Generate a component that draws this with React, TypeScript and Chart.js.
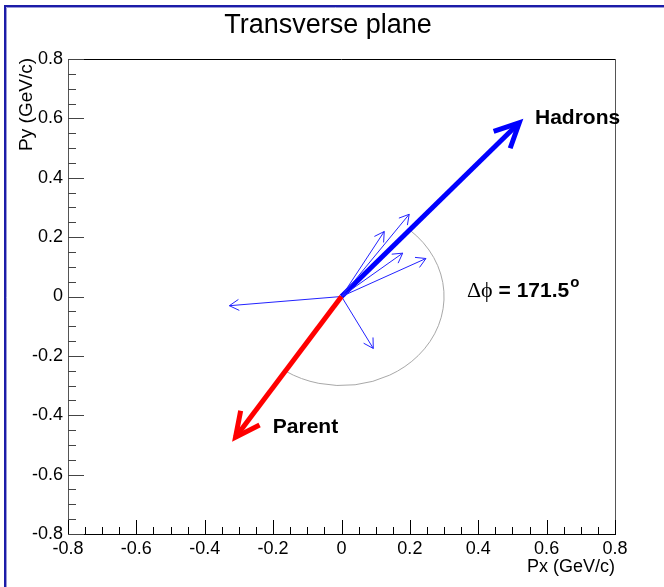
import React, { useEffect, useRef } from "react";
import { Chart, registerables } from "chart.js";

Chart.register(...registerables);

// Transverse momentum components (GeV/c) of the individual charged tracks
const trackPx = [-0.328, 0.093, 0.125, 0.198, 0.179, 0.247];
const trackPy = [-0.031, -0.175, 0.219, 0.277, 0.146, 0.128];

// Summed hadronic system and the parent
const hadronsPx = 0.52;
const hadronsPy = 0.585;
const parentPx = -0.31;
const parentPy = -0.474;

// Opening angle between the two systems (degrees) and radius of the indicator arc
const deltaPhiDeg = 171.5;
const arcRadius = 0.3;

// Axis range and tick spacing
const axisMin = -0.8;
const axisMax = 0.8;
const majorStep = 0.2;
const minorStep = 0.05;

const SANS = "'Liberation Sans', Arial, Helvetica, sans-serif";

function fmtTick(v: number): string {
  if (Math.abs(v) < 1e-9) return "0";
  return String(Number(v.toFixed(1)));
}

function drawHead(
  ctx: CanvasRenderingContext2D,
  x0: number, y0: number, x1: number, y1: number,
  len: number, halfAngleDeg: number, lw: number, color: string
) {
  const ang = Math.atan2(y0 - y1, x0 - x1);
  const a = (halfAngleDeg * Math.PI) / 180;
  ctx.save();
  ctx.strokeStyle = color;
  ctx.lineWidth = lw;
  ctx.lineJoin = "miter";
  ctx.lineCap = "butt";
  ctx.beginPath();
  ctx.moveTo(x1 + len * Math.cos(ang + a), y1 + len * Math.sin(ang + a));
  ctx.lineTo(x1, y1);
  ctx.lineTo(x1 + len * Math.cos(ang - a), y1 + len * Math.sin(ang - a));
  ctx.stroke();
  ctx.restore();
}

const decorations = {
  id: "transverseDecorations",
  beforeDraw(chart: any) {
    const { ctx, width, height } = chart;
    ctx.save();
    ctx.fillStyle = "#ffffff";
    ctx.fillRect(0, 0, width, height);
    // canvas frame
    ctx.strokeStyle = "#1c1ca8";
    ctx.lineWidth = 2;
    ctx.beginPath();
    ctx.moveTo(5, height + 2);
    ctx.lineTo(5, 6);
    ctx.lineTo(width + 2, 6);
    ctx.stroke();
    ctx.strokeStyle = "#9a9ad8";
    ctx.lineWidth = 1;
    ctx.beginPath();
    ctx.moveTo(6.5, height + 2);
    ctx.lineTo(6.5, 7.5);
    ctx.lineTo(width + 2, 7.5);
    ctx.stroke();
    ctx.restore();
  },
  beforeDatasetsDraw(chart: any) {
    const { ctx, chartArea } = chart;
    const xs = chart.scales.x;
    const ys = chart.scales.y;
    const { left, right, top, bottom } = chartArea;

    ctx.save();
    // frame
    ctx.lineWidth = 1;
    ctx.strokeStyle = "#000";
    ctx.beginPath();
    ctx.moveTo(left, Math.round(top) + 0.5);
    ctx.lineTo(right, Math.round(top) + 0.5);
    ctx.moveTo(left, Math.round(bottom) + 0.5);
    ctx.lineTo(right + 1, Math.round(bottom) + 0.5);
    ctx.stroke();
    ctx.strokeStyle = "#555";
    ctx.beginPath();
    ctx.moveTo(Math.round(left) + 0.5, top);
    ctx.lineTo(Math.round(left) + 0.5, bottom);
    ctx.moveTo(Math.round(right) + 0.5, top);
    ctx.lineTo(Math.round(right) + 0.5, bottom);
    ctx.stroke();

    // inward tick marks on bottom and left axes
    const nMinor = Math.round((axisMax - axisMin) / minorStep);
    const perMajor = Math.round(majorStep / minorStep);
    ctx.strokeStyle = "#000";
    ctx.beginPath();
    for (let i = 0; i <= nMinor; i++) {
      const v = axisMin + i * minorStep;
      const px = Math.round(xs.getPixelForValue(v)) + 0.5;
      const len = i % perMajor === 0 ? 14 : 7;
      ctx.moveTo(px, bottom);
      ctx.lineTo(px, bottom - len);
    }
    ctx.stroke();
    ctx.strokeStyle = "#444";
    ctx.beginPath();
    for (let i = 0; i <= nMinor; i++) {
      const v = axisMin + i * minorStep;
      const py = Math.round(ys.getPixelForValue(v)) + 0.5;
      const len = i % perMajor === 0 ? 16 : 8;
      ctx.moveTo(left, py);
      ctx.lineTo(left + len, py);
    }
    ctx.stroke();

    // Δφ arc, from the hadron direction sweeping clockwise by Δφ
    const cx = xs.getPixelForValue(0);
    const cy = ys.getPixelForValue(0);
    const rx = xs.getPixelForValue(arcRadius) - cx;
    const ry = cy - ys.getPixelForValue(arcRadius);
    const phiH = Math.atan2(hadronsPy, hadronsPx);
    const phiEnd = phiH - (deltaPhiDeg * Math.PI) / 180;
    ctx.strokeStyle = "#a8a8a8";
    ctx.lineWidth = 1;
    ctx.beginPath();
    ctx.ellipse(cx, cy, rx, ry, 0, -phiH, -phiEnd, false);
    ctx.stroke();
    ctx.restore();
  },
  afterDatasetsDraw(chart: any) {
    const { ctx } = chart;
    chart.data.datasets.forEach((ds: any, i: number) => {
      const meta = chart.getDatasetMeta(i);
      const p0 = meta.data[0];
      const p1 = meta.data[1];
      if (!p0 || !p1) return;
      drawHead(ctx, p0.x, p0.y, p1.x, p1.y, ds.headLen, ds.headAngle, ds.borderWidth, ds.borderColor);
    });

    const xs = chart.scales.x;
    const ys = chart.scales.y;
    ctx.save();
    ctx.fillStyle = "#000";
    ctx.textBaseline = "middle";

    // title
    ctx.textAlign = "center";
    ctx.font = `27px ${SANS}`;
    ctx.fillText("Transverse plane", 328, 26);

    // axis titles
    ctx.font = `18px ${SANS}`;
    ctx.textAlign = "right";
    ctx.fillText("Px (GeV/c)", xs.right, 567);
    ctx.save();
    ctx.font = `19px ${SANS}`;
    ctx.translate(27, ys.top - 1);
    ctx.rotate(-Math.PI / 2);
    ctx.textAlign = "right";
    ctx.fillText("Py (GeV/c)", 0, 0);
    ctx.restore();

    // annotations
    ctx.textAlign = "left";
    ctx.font = `bold 21px ${SANS}`;
    ctx.fillText("Hadrons", xs.getPixelForValue(0.566), ys.getPixelForValue(0.6));
    ctx.fillText("Parent", xs.getPixelForValue(-0.201), ys.getPixelForValue(-0.44));

    let lx = xs.getPixelForValue(0.367);
    const ly = ys.getPixelForValue(0.018);
    ctx.font = `22px 'Liberation Serif', 'DejaVu Serif', serif`;
    const greek = "\u0394\u03D5";
    ctx.fillText(greek, lx, ly);
    lx += ctx.measureText(greek).width;
    ctx.font = `bold 21px ${SANS}`;
    const val = ` = ${deltaPhiDeg.toFixed(1)}`;
    ctx.fillText(val, lx, ly);
    lx += ctx.measureText(val).width + 1;
    ctx.font = `bold 15px ${SANS}`;
    ctx.fillText("o", lx, ly - 8);
    ctx.restore();
  },
};

function arrowDataset(px: number, py: number, color: string, width: number, headLen: number, headAngle: number) {
  return {
    type: "line",
    data: [
      { x: 0, y: 0 },
      { x: px, y: py },
    ],
    borderColor: color,
    borderWidth: width,
    borderCapStyle: "butt",
    pointRadius: 0,
    pointHoverRadius: 0,
    showLine: true,
    fill: false,
    headLen,
    headAngle,
  };
}

export default function App() {
  const canvasRef = useRef<HTMLCanvasElement | null>(null);

  useEffect(() => {
    document.body.style.margin = "0";
    const canvas = canvasRef.current;
    if (!canvas) return;

    const datasets: any[] = [];
    datasets.push(arrowDataset(parentPx, parentPy, "#ff0000", 5, 27, 26));
    for (let i = 0; i < trackPx.length; i++) {
      datasets.push(arrowDataset(trackPx[i], trackPy[i], "#2222ff", 1, 11, 30));
    }
    datasets.push(arrowDataset(hadronsPx, hadronsPy, "#0000ff", 5, 27, 26));

    const tickFont = { family: SANS, size: 18 };
    const chart = new Chart(canvas, {
      type: "scatter",
      data: { datasets },
      options: {
        animation: false,
        responsive: false,
        devicePixelRatio: 1,
        events: [],
        layout: { padding: { left: 0, top: 59, right: 49, bottom: 0 }, autoPadding: false },
        plugins: { legend: { display: false }, tooltip: { enabled: false }, title: { display: false } },
        scales: {
          x: {
            type: "linear",
            min: axisMin,
            max: axisMax,
            grid: { display: false, drawTicks: false },
            border: { display: false },
            ticks: {
              stepSize: majorStep,
              padding: 4,
              color: "#000",
              font: tickFont,
              maxRotation: 0,
              autoSkip: false,
              callback: (v: any) => fmtTick(Number(v)),
            },
            afterFit: (s: any) => {
              s.height = 53;
            },
          },
          y: {
            type: "linear",
            min: axisMin,
            max: axisMax,
            grid: { display: false, drawTicks: false },
            border: { display: false },
            ticks: {
              stepSize: majorStep,
              padding: 5,
              color: "#000",
              font: tickFont,
              autoSkip: false,
              callback: (v: any) => fmtTick(Number(v)),
            },
            afterFit: (s: any) => {
              s.width = 68;
            },
          },
        },
      } as any,
      plugins: [decorations],
    } as any);

    return () => chart.destroy();
  }, []);

  return (
    <div style={{ width: 664, height: 587 }}>
      <canvas ref={canvasRef} width={664} height={587} style={{ display: "block" }} />
    </div>
  );
}
